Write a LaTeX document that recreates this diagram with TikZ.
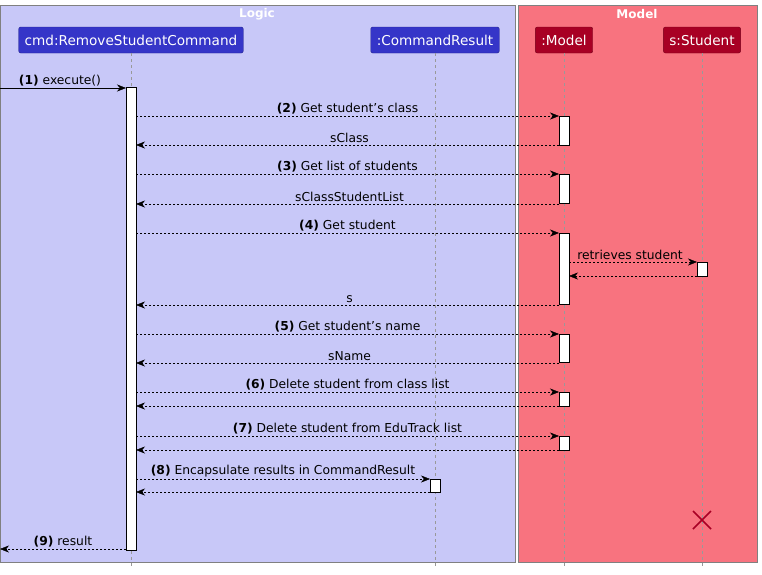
\documentclass[tikz,border=0pt]{standalone}
\usepackage{fontspec}
\setmainfont{DejaVu Sans}
\usetikzlibrary{arrows.meta}
\definecolor{logicbg}{HTML}{C8C8F8}
\definecolor{modelbg}{HTML}{F8737F}
\definecolor{blueP}{HTML}{3535C8}
\definecolor{redP}{HTML}{A80024}
\begin{document}
\begin{tikzpicture}[x=1pt,y=-1pt,font=\fontsize{12.3}{14}\selectfont,
 part/.style={draw=#1!70!black,fill=#1,text=white,rounded corners=2pt,minimum height=26pt,inner xsep=6pt,font=\fontsize{13.6}{15}\selectfont},
 life/.style={draw=gray!80,dash pattern=on 3pt off 3pt,thin},
 act/.style={draw=black,fill=white,thin},
 msg/.style={-{Stealth[length=9pt,width=7pt]},thin},
 ret/.style={msg,dash pattern=on 2pt off 2pt},
 lbl/.style={above,inner sep=2pt}]
\useasboundingbox (0,0) rectangle (762,574);
\fill[white] (0,0) rectangle (762,574);
\draw[gray,fill=logicbg] (0,5) rectangle (515,562);
\draw[gray,fill=modelbg] (518,5) rectangle (757,562);
\node[text=white,font=\bfseries\fontsize{12}{13}\selectfont] at (257,14) {Logic};
\node[text=white,font=\bfseries\fontsize{12}{13}\selectfont] at (637,14) {Model};
\node[part=blueP] (cmd) at (131,40) {cmd:RemoveStudentCommand};
\node[part=blueP] (res) at (435,40) {:CommandResult};
\node[part=redP] (mod) at (564,40) {:Model};
\node[part=redP] (stu) at (702,40) {s:Student};
\foreach \n/\x in {cmd/131,res/435,mod/564,stu/702} \draw[life] (\n.south) -- (\x,568);
% activations
\draw[act] (126,87) rectangle (136,550);
\foreach \a/\b in {116/145,174/203,233/304,334/362,392/406,436/450} \draw[act] (559,\a) rectangle (569,\b);
\draw[act] (697,262) rectangle (707,276);
\draw[act] (430,479) rectangle (440,492);
\coordinate (in) at (0,88);
\coordinate (out) at (0,549);
\draw[msg] (in) -- node[lbl,xshift=-3pt]{\textbf{(1)} execute()} (126,88);
\foreach \y/\t in {116/{\textbf{(2)} Get student's class},174/{\textbf{(3)} Get list of students},233/{\textbf{(4)} Get student},334/{\textbf{(5)} Get student's name},392/{\textbf{(6)} Delete student from class list},436/{\textbf{(7)} Delete student from EduTrack list}}
  \draw[ret] (136,\y) -- node[lbl,xshift=0pt]{\t} (559,\y);
\foreach \y/\t in {145/sClass,204/sClassStudentList,305/s,363/sName,406/{},450/{}}
  \draw[ret] (559,\y) -- node[lbl,xshift=2pt]{\t} (136,\y);
\draw[ret] (569,262) -- node[lbl,xshift=-3pt]{retrieves student} (697,262);
\draw[ret] (697,276) -- (569,276);
\draw[ret] (136,479) -- node[lbl]{\textbf{(8)} Encapsulate results in CommandResult} (430,479);
\draw[ret] (430,492) -- (136,492);
\draw[redP,line width=1.5pt] (693,511) -- (711,529) (693,529) -- (711,511);
\draw[ret] (126,549) -- node[lbl]{\textbf{(9)} result} (out);
\end{tikzpicture}
\end{document}
